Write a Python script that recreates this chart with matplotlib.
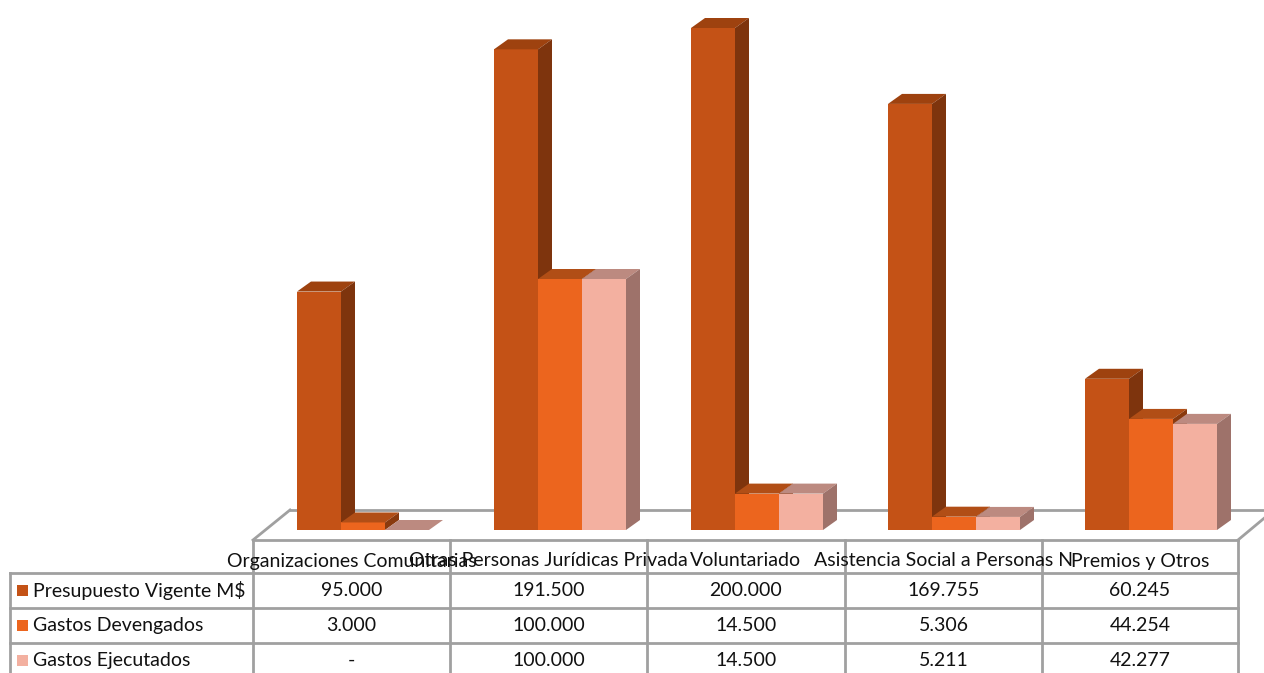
import matplotlib
matplotlib.use('Agg')
import matplotlib.pyplot as plt
from matplotlib.patches import Polygon
import numpy as np

categorias = ['Organizaciones Comunitarias', 'Otras Personas Jurídicas Privada', 'Voluntariado',
              'Asistencia Social a Personas N', 'Premios y Otros']
series = ['Presupuesto Vigente M$', 'Gastos Devengados', 'Gastos Ejecutados']
presupuesto = [95000, 191500, 200000, 169755, 60245]
devengados = [3000, 100000, 14500, 5306, 44254]
ejecutados = [0, 100000, 14500, 5211, 42277]
valores = [presupuesto, devengados, ejecutados]

# front, top, side colours per series
col_front = ['#C45216', '#EC651E', '#F3B0A0']
col_top = ['#9E420F', '#B14E16', '#BC8A80']
col_side = ['#7E340D', '#8A3A0E', '#9E726A']

W, H = 1264, 673
plt.rcParams['font.family'] = ['Lato', 'DejaVu Sans']
fig = plt.figure(figsize=(W / 100, H / 100), dpi=100)

# overlay in pixel units for floor + data table
tab = fig.add_axes([0, 0, 1, 1])
tab.set_xlim(0, W)
tab.set_ylim(H, 0)
tab.axis('off')

# bar axes: x in category units, y in pesos
ax = fig.add_axes([0, 0, 1, 1])
ax.patch.set_alpha(0)
ax.axis('off')
col_w = 197.0          # px per category
x_c0 = 351.5           # px centre of first column
base_px, top_px = 530.0, 28.0
k = 200000 / (base_px - top_px)   # pesos per px
ax.set_xlim(-x_c0 / col_w, (W - x_c0) / col_w)
ax.set_ylim(-(H - base_px) * k, 200000 + top_px * k)

bw = 44 / col_w
dx = 14 / col_w
dy = 10 * k
shift = 11.5 / col_w

grid = '#a0a0a0'
lw = 2.0

# floor outline
tab.plot([290, W + 2], [510, 510], color=grid, lw=lw, zorder=1)
tab.plot([253, 290], [540, 510], color=grid, lw=lw, zorder=1)
tab.plot([1238, 1268], [540, 515], color=grid, lw=lw, zorder=1)
tab.plot([253, 1238], [540, 540], color=grid, lw=lw, zorder=1)

# 3D bars, left to right so later bars overlap the sides of earlier ones
for i in range(len(categorias)):
    for s in range(len(series)):
        v = valores[s][i]
        x0 = i + shift + (s - 1) * bw - bw / 2
        x1 = x0 + bw
        ax.bar(x0, v, width=bw, align='edge', color=col_front[s], lw=0, zorder=3)
        ax.add_patch(Polygon([(x0, v), (x0 + dx, v + dy), (x1 + dx, v + dy), (x1, v)],
                             closed=True, fc=col_top[s], ec='none', zorder=3))
        ax.add_patch(Polygon([(x1, 0), (x1, v), (x1 + dx, v + dy), (x1 + dx, dy)],
                             closed=True, fc=col_side[s], ec='none', zorder=3))

# data table
row_lines = [573, 608, 643, 678]
col_lines = [253, 450, 647, 845, 1042, 1238]
for y in row_lines:
    tab.plot([10, 1238], [y, y], color=grid, lw=lw)
tab.plot([10, 10], [573, H + 5], color=grid, lw=lw)
for x in col_lines:
    tab.plot([x, x], [540, H + 5], color=grid, lw=lw)

fs = 14
for i, cat in enumerate(categorias):
    cx = (col_lines[i] + col_lines[i + 1]) / 2
    tab.text(cx, 561, cat, ha='center', va='center', fontsize=fs, color='#111111')

def fmt(v):
    if v == 0:
        return '-'
    return f'{v:,}'.replace(',', '.')

for s, name in enumerate(series):
    cy = (row_lines[s] + row_lines[s + 1]) / 2
    tab.add_patch(plt.Rectangle((17, cy - 6), 11, 11, fc=col_front[s], ec='none'))
    tab.text(33, cy, name, ha='left', va='center', fontsize=fs, color='#111111')
    for i in range(len(categorias)):
        cx = (col_lines[i] + col_lines[i + 1]) / 2
        tab.text(cx, cy, fmt(valores[s][i]), ha='center', va='center', fontsize=fs, color='#111111')

fig.savefig('out.png', dpi=100)
